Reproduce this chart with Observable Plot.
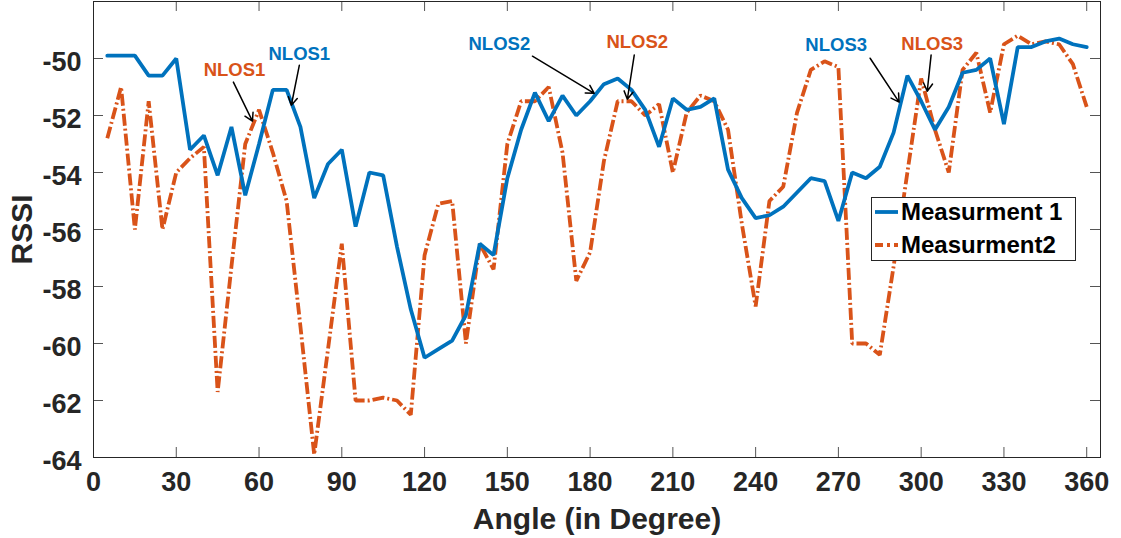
<!DOCTYPE html>
<html><head><meta charset="utf-8">
<script src="https://cdn.jsdelivr.net/npm/d3@7"></script>
<script src="https://cdn.jsdelivr.net/npm/@observablehq/plot@0.6"></script>
<style>
body{margin:0;background:#fff;}
#wrap{position:relative;width:1121px;height:538px;}
#legend{position:absolute;left:871px;top:197px;width:205px;height:64px;border:1px solid #262626;background:#fff;font:bold 24px "Liberation Sans",Arial,sans-serif;color:#000;box-sizing:border-box;}
#legend .lab{position:absolute;left:29px;transform:translateY(-50%);white-space:nowrap;line-height:1;}
</style></head><body><div id="wrap"></div>
<script>
const angles = [5,10,15,20,25,30,35,40,45,50,55,60,65,70,75,80,85,90,95,100,105,110,115,120,125,130,135,140,145,150,155,160,165,170,175,180,185,190,195,200,205,210,215,220,225,230,235,240,245,250,255,260,265,270,275,280,285,290,295,300,305,310,315,320,325,330,335,340,345,350,355,360];
const measurement1 = [-49.9,-49.9,-49.9,-50.6,-50.6,-50.0,-53.2,-52.7,-54.1,-52.4,-54.8,-53.0,-51.1,-51.1,-52.4,-54.9,-53.7,-53.2,-55.9,-54.0,-54.1,-56.6,-58.8,-60.5,-60.2,-59.9,-59.0,-56.5,-56.9,-54.2,-52.5,-51.2,-52.2,-51.3,-52.0,-51.5,-50.9,-50.7,-51.1,-51.8,-53.1,-51.4,-51.8,-51.7,-51.4,-53.9,-54.9,-55.6,-55.5,-55.2,-54.7,-54.2,-54.3,-55.7,-54.0,-54.2,-53.8,-52.6,-50.6,-51.5,-52.5,-51.7,-50.5,-50.4,-50.0,-52.3,-49.6,-49.6,-49.4,-49.3,-49.5,-49.6];
const measurement2 = [-52.8,-51.0,-56.0,-51.5,-56.0,-54.0,-53.5,-53.1,-61.7,-57.3,-53.0,-51.8,-53.3,-55.0,-59.4,-63.9,-60.2,-56.5,-62.0,-62.0,-61.9,-62.0,-62.5,-56.9,-55.1,-55.0,-60.0,-56.5,-57.4,-53.0,-51.5,-51.5,-51.0,-53.3,-57.8,-56.8,-53.6,-51.5,-51.5,-52.0,-51.6,-54.0,-51.9,-51.3,-51.5,-52.5,-55.8,-58.7,-55.0,-54.5,-51.9,-50.4,-50.1,-50.3,-60.0,-60.0,-60.4,-57.3,-54.0,-50.7,-52.5,-54.0,-50.4,-49.8,-51.9,-49.5,-49.2,-49.5,-49.4,-49.5,-50.2,-51.7];
const xTicks = [0,30,60,90,120,150,180,210,240,270,300,330,360];
const yTicks = [-64,-62,-60,-58,-56,-54,-52,-50];
const seriesNames = ["Measurment 1","Measurment2"];
const seriesColors = ["#0072BD","#D95319"];
const xLabel = "Angle (in Degree)";
const yLabel = "RSSI";
// annotation labels: series index, text position, arrow start/end (data units)
const annLabels = ["NLOS1","NLOS1","NLOS2","NLOS2","NLOS3","NLOS3"];
const annSeries = [1,0,0,1,0,1];
const annTextX = [51.1,74.6,147.1,197.1,269.2,304.0];
const annTextY = [-50.41,-49.85,-49.5,-49.43,-49.53,-49.5];
const annX1 = [50.7,74.6,159.1,196.0,281.5,303.6];
const annY1 = [-50.83,-50.24,-49.92,-49.88,-49.99,-49.88];
const annX2 = [57.6,71.7,181.5,193.5,292.0,302.2];
const annY2 = [-52.2,-51.64,-51.22,-51.43,-51.53,-51.15];

const d1 = angles.map((a,i)=>({angle:a, rssi:measurement1[i]}));
const d2 = angles.map((a,i)=>({angle:a, rssi:measurement2[i]}));
const ann = annLabels.map((t,i)=>({label:t, series:annSeries[i], tx:annTextX[i], ty:annTextY[i], x1:annX1[i], y1:annY1[i], x2:annX2[i], y2:annY2[i]}));

const W = 1121, H = 538, mL = 93, mR = 21, mT = 1, mB = 81;
const fw = W - mL - mR, fh = H - mT - mB, tk = 10;
const font = '"Liberation Sans", Arial, Helvetica, sans-serif';
const fmt = d => String(d);

const plot = Plot.plot({
  width: W, height: H, marginLeft: mL, marginRight: mR, marginTop: mT, marginBottom: mB,
  x: {domain: [0, 365]},
  y: {domain: [-64, -48]},
  style: {fontFamily: font, fontWeight: "bold", fontSize: "27px", color: "#262626", background: "#fff"},
  marks: [
    Plot.tickX(xTicks, {x: d => d, insetTop: fh - tk, stroke: "#555", strokeWidth: 1}),
    Plot.tickX(xTicks, {x: d => d, insetBottom: fh - tk, stroke: "#555", strokeWidth: 1}),
    Plot.tickY(yTicks, {y: d => d, insetRight: fw - tk, stroke: "#555", strokeWidth: 1}),
    Plot.tickY(yTicks, {y: d => d, insetLeft: fw - tk, stroke: "#555", strokeWidth: 1}),
    Plot.axisX({ticks: xTicks, tickFormat: fmt, tickSize: 0, tickPadding: 14, label: null, fontSize: 27, fontWeight: "bold"}),
    Plot.axisY({ticks: yTicks, tickFormat: fmt, tickSize: 0, tickPadding: 12, label: null, fontSize: 27, fontWeight: "bold", dy: 4}),
    Plot.line(d2, {x: "angle", y: "rssi", stroke: seriesColors[1], strokeWidth: 3.8, strokeDasharray: "12,3,2,3", strokeLinecap: "butt", strokeLinejoin: "miter"}),
    Plot.line(d1, {x: "angle", y: "rssi", stroke: seriesColors[0], strokeWidth: 3.8, strokeLinejoin: "miter"}),
    Plot.frame({stroke: "#262626", strokeWidth: 1}),
    Plot.arrow(ann, {x1: "x1", y1: "y1", x2: "x2", y2: "y2", stroke: "black", strokeWidth: 1.5, headLength: 9}),
    Plot.text(ann.filter(d => d.series === 0), {x: "tx", y: "ty", text: "label", fill: seriesColors[0], fontSize: 18.5, fontWeight: "bold"}),
    Plot.text(ann.filter(d => d.series === 1), {x: "tx", y: "ty", text: "label", fill: seriesColors[1], fontSize: 18.5, fontWeight: "bold"}),
    Plot.text([xLabel], {text: d => d, frameAnchor: "bottom", lineAnchor: "middle", dy: 62, fontSize: 30, fontWeight: "bold", fill: "#262626"}),
    Plot.text([yLabel], {text: d => d, frameAnchor: "left", textAnchor: "middle", lineAnchor: "middle", dx: -71, rotate: -90, fontSize: 30, fontWeight: "bold", fill: "#262626"})
  ]
});
const wrap = document.getElementById("wrap");
wrap.appendChild(plot);

const leg = document.createElement("div");
leg.id = "legend";
const rowsY = [15, 48];
let svg = `<svg width="205" height="64" style="position:absolute;left:-1px;top:-1px">`;
svg += `<line x1="4" x2="27" y1="${rowsY[0]}" y2="${rowsY[0]}" stroke="${seriesColors[0]}" stroke-width="3.8"/>`;
svg += `<line x1="4" x2="27" y1="${rowsY[1]}" y2="${rowsY[1]}" stroke="${seriesColors[1]}" stroke-width="3.8" stroke-dasharray="8,4,3,4"/>`;
svg += `</svg>`;
leg.innerHTML = svg + seriesNames.map((n,i)=>`<div class="lab" style="top:${rowsY[i]-1}px">${n}</div>`).join("");
wrap.appendChild(leg);
</script>
</body></html>
